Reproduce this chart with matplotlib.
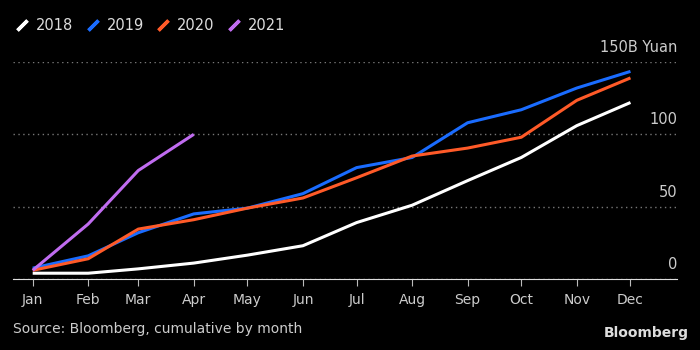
import matplotlib
matplotlib.use('Agg')
import matplotlib.pyplot as plt
import matplotlib.transforms as mtransforms
from matplotlib.lines import Line2D
import pandas as pd

months = ['Jan', 'Feb', 'Mar', 'Apr', 'May', 'Jun', 'Jul', 'Aug', 'Sep', 'Oct', 'Nov', 'Dec']
# cumulative issuance, billion yuan
y2018 = [4, 4, 7, 11, 16.5, 23, 39, 51, 68, 84, 106, 122]
y2019 = [7.5, 16, 32, 45, 49, 59, 77, 84, 108, 117, 132, 143.5]
y2020 = [6, 14, 34.5, 41, 49, 56, 70, 85, 90.5, 98, 123.5, 139]
y2021 = [6, 38, 75, 100]

series = [('2018', y2018, '#ffffff'), ('2019', y2019, '#1a6cff'),
          ('2020', y2020, '#ff5a28'), ('2021', y2021, '#c06cf0')]
yticks = [0, 50, 100, 150]
ylabels = ['0', '50', '100', '150B Yuan']

dates = pd.date_range('2021-01-01', periods=12, freq='MS')

fig = plt.figure(figsize=(7, 3.5), dpi=100, facecolor='black')
ax = fig.add_axes([13/700, 1-279/350, (677-13)/700, (279-62)/350], facecolor='black')

for name, vals, col in series:
    ax.plot(dates[:len(vals)], vals, color=col, lw=2.2, solid_capstyle='butt', zorder=3)

ax.set_xlim(pd.Timestamp('2020-12-21'), pd.Timestamp('2021-12-27'))
ax.set_ylim(0, 150)
ax.set_xticks(dates)
ax.set_xticklabels(months)
ax.tick_params(axis='x', colors='#bbbbbb', labelcolor='#cccccc', length=5, width=0.8,
               pad=5, labelsize=10)
ax.set_yticks(yticks)
ax.set_yticklabels([])
ax.tick_params(axis='y', length=0)
ax.yaxis.grid(True, color='#777777', linestyle=(0, (1, 2.5)), lw=1.0)
for sp in ['top', 'right', 'left']:
    ax.spines[sp].set_visible(False)
ax.spines['bottom'].set_color('#dddddd')
ax.spines['bottom'].set_linewidth(0.8)

trans = mtransforms.blended_transform_factory(ax.transAxes, ax.transData)
off = mtransforms.ScaledTranslation(0, 5/72, fig.dpi_scale_trans)
for v, s in zip(yticks, ylabels):
    ax.text(1.0, v, s, transform=trans + off, ha='right', va='bottom',
            color='#cccccc', fontsize=10.5)

handles = [Line2D([], [], color=c, marker=(2, 2, -45), linestyle='none',
                  markersize=10, markeredgewidth=2.5) for _, _, c in series]
leg = fig.legend(handles, [n for n, _, _ in series], loc='upper left',
                 bbox_to_anchor=(0.003, 0.985), ncol=4, frameon=False,
                 handlelength=0.9, handletextpad=0.5, columnspacing=0.9,
                 fontsize=10.5)
for t in leg.get_texts():
    t.set_color('#dddddd')

fig.text(13/700, 1-329/350, 'Source: Bloomberg, cumulative by month', color='#cccccc',
         fontsize=10, va='center')
fig.text(689/700, 1-333/350, 'Bloomberg', color='#dddddd', fontsize=10,
         fontweight='bold', ha='right', va='center')

fig.savefig('out.png', dpi=100, facecolor='black')
